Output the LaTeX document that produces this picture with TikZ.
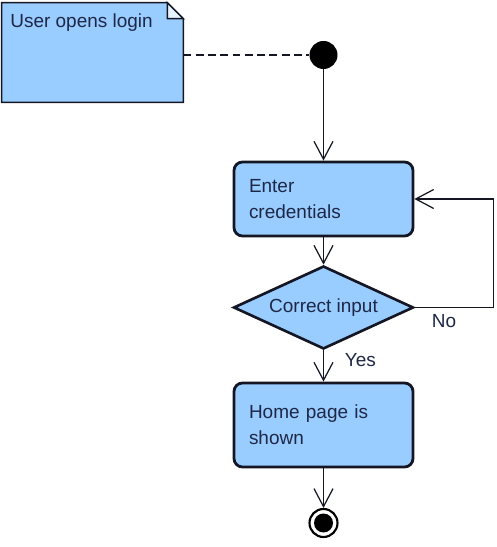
\documentclass[tikz,border=0pt]{standalone}
\usepackage{fontspec}
\setmainfont{Liberation Sans}
\usepackage{xcolor}
\usepackage{tikz}
\usetikzlibrary{arrows.meta,shapes.geometric}
\definecolor{actfill}{RGB}{153,204,255}
\definecolor{actline}{RGB}{20,22,35}
\definecolor{acttext}{RGB}{30,40,70}

\begin{document}
\begin{tikzpicture}[
    every node/.style={font=\fontsize{10.8}{14.7}\selectfont,text=acttext},
    notebox/.style={minimum width=3.62cm,minimum height=1.98cm,inner sep=0pt},
    action/.style={draw=actline,line width=1.6pt,fill=actfill,rounded corners=0.17cm,minimum width=3.58cm,text width=2.98cm,align=left,inner xsep=0.3cm},
    decision/.style={diamond,aspect=2.2,draw=actline,line width=1.5pt,fill=actfill,minimum width=3.6cm,minimum height=1.66cm,inner sep=0pt},
    startnode/.style={circle,fill=black,minimum size=0.56cm,inner sep=0pt},
    endnode/.style={circle,draw=black,line width=1.2pt,fill=white,minimum size=0.56cm,inner sep=0pt,path picture={\fill[black] (path picture bounding box.center) circle (0.19cm);}},
    flow/.style={draw=actline,line width=0.7pt,-{Straight Barb[length=0.36cm,width=0.38cm]}}
]
                    \useasboundingbox (0,0) rectangle (9.94,10.94);

                    \node[notebox] (note) at (1.85,9.89) {};
                    \draw[actline,line width=0.8pt,fill=actfill] (note.south west) -- (note.south east) -- ([yshift=-0.32cm]note.north east) -- ([xshift=-0.32cm]note.north east) -- (note.north west) -- cycle;
                    \draw[actline,line width=0.8pt,fill=actfill!25] ([xshift=-0.32cm]note.north east) -- ([xshift=-0.32cm,yshift=-0.32cm]note.north east) -- ([yshift=-0.32cm]note.north east) -- cycle;
                    \node[anchor=north west] (notetext) at ([xshift=0.05cm,yshift=-0.1cm]note.north west) {User opens login};

                    \node[startnode] (start) at (6.47,9.84) {};
                    \node[action,minimum height=1.48cm] (enter) at (6.47,6.96) {Enter\\credentials};
                    \node[decision] (check) at (6.47,4.79) {Correct input};
                    \node[action,minimum height=1.68cm] (home) at (6.47,2.44) {Home page is\\shown};
                    \node[endnode] (stop) at (6.47,0.48) {};

                    \draw[actline,line width=0.7pt,dash pattern=on 4.5pt off 2.5pt] (note.east |- start) -- (start);
                    \draw[flow] (start) -- (enter);
                    \draw[flow] (enter) -- (check);
                    \draw[flow] (check) -- node[pos=0.32,right=0.3cm] (yes) {Yes} (home);
                    \draw[flow] (home) -- (stop);
                    \draw[flow] (check.east) -- node[pos=0.37,below] (no) {No} ++(1.58,0) |- (enter.east);
                \end{tikzpicture}
\end{document}
